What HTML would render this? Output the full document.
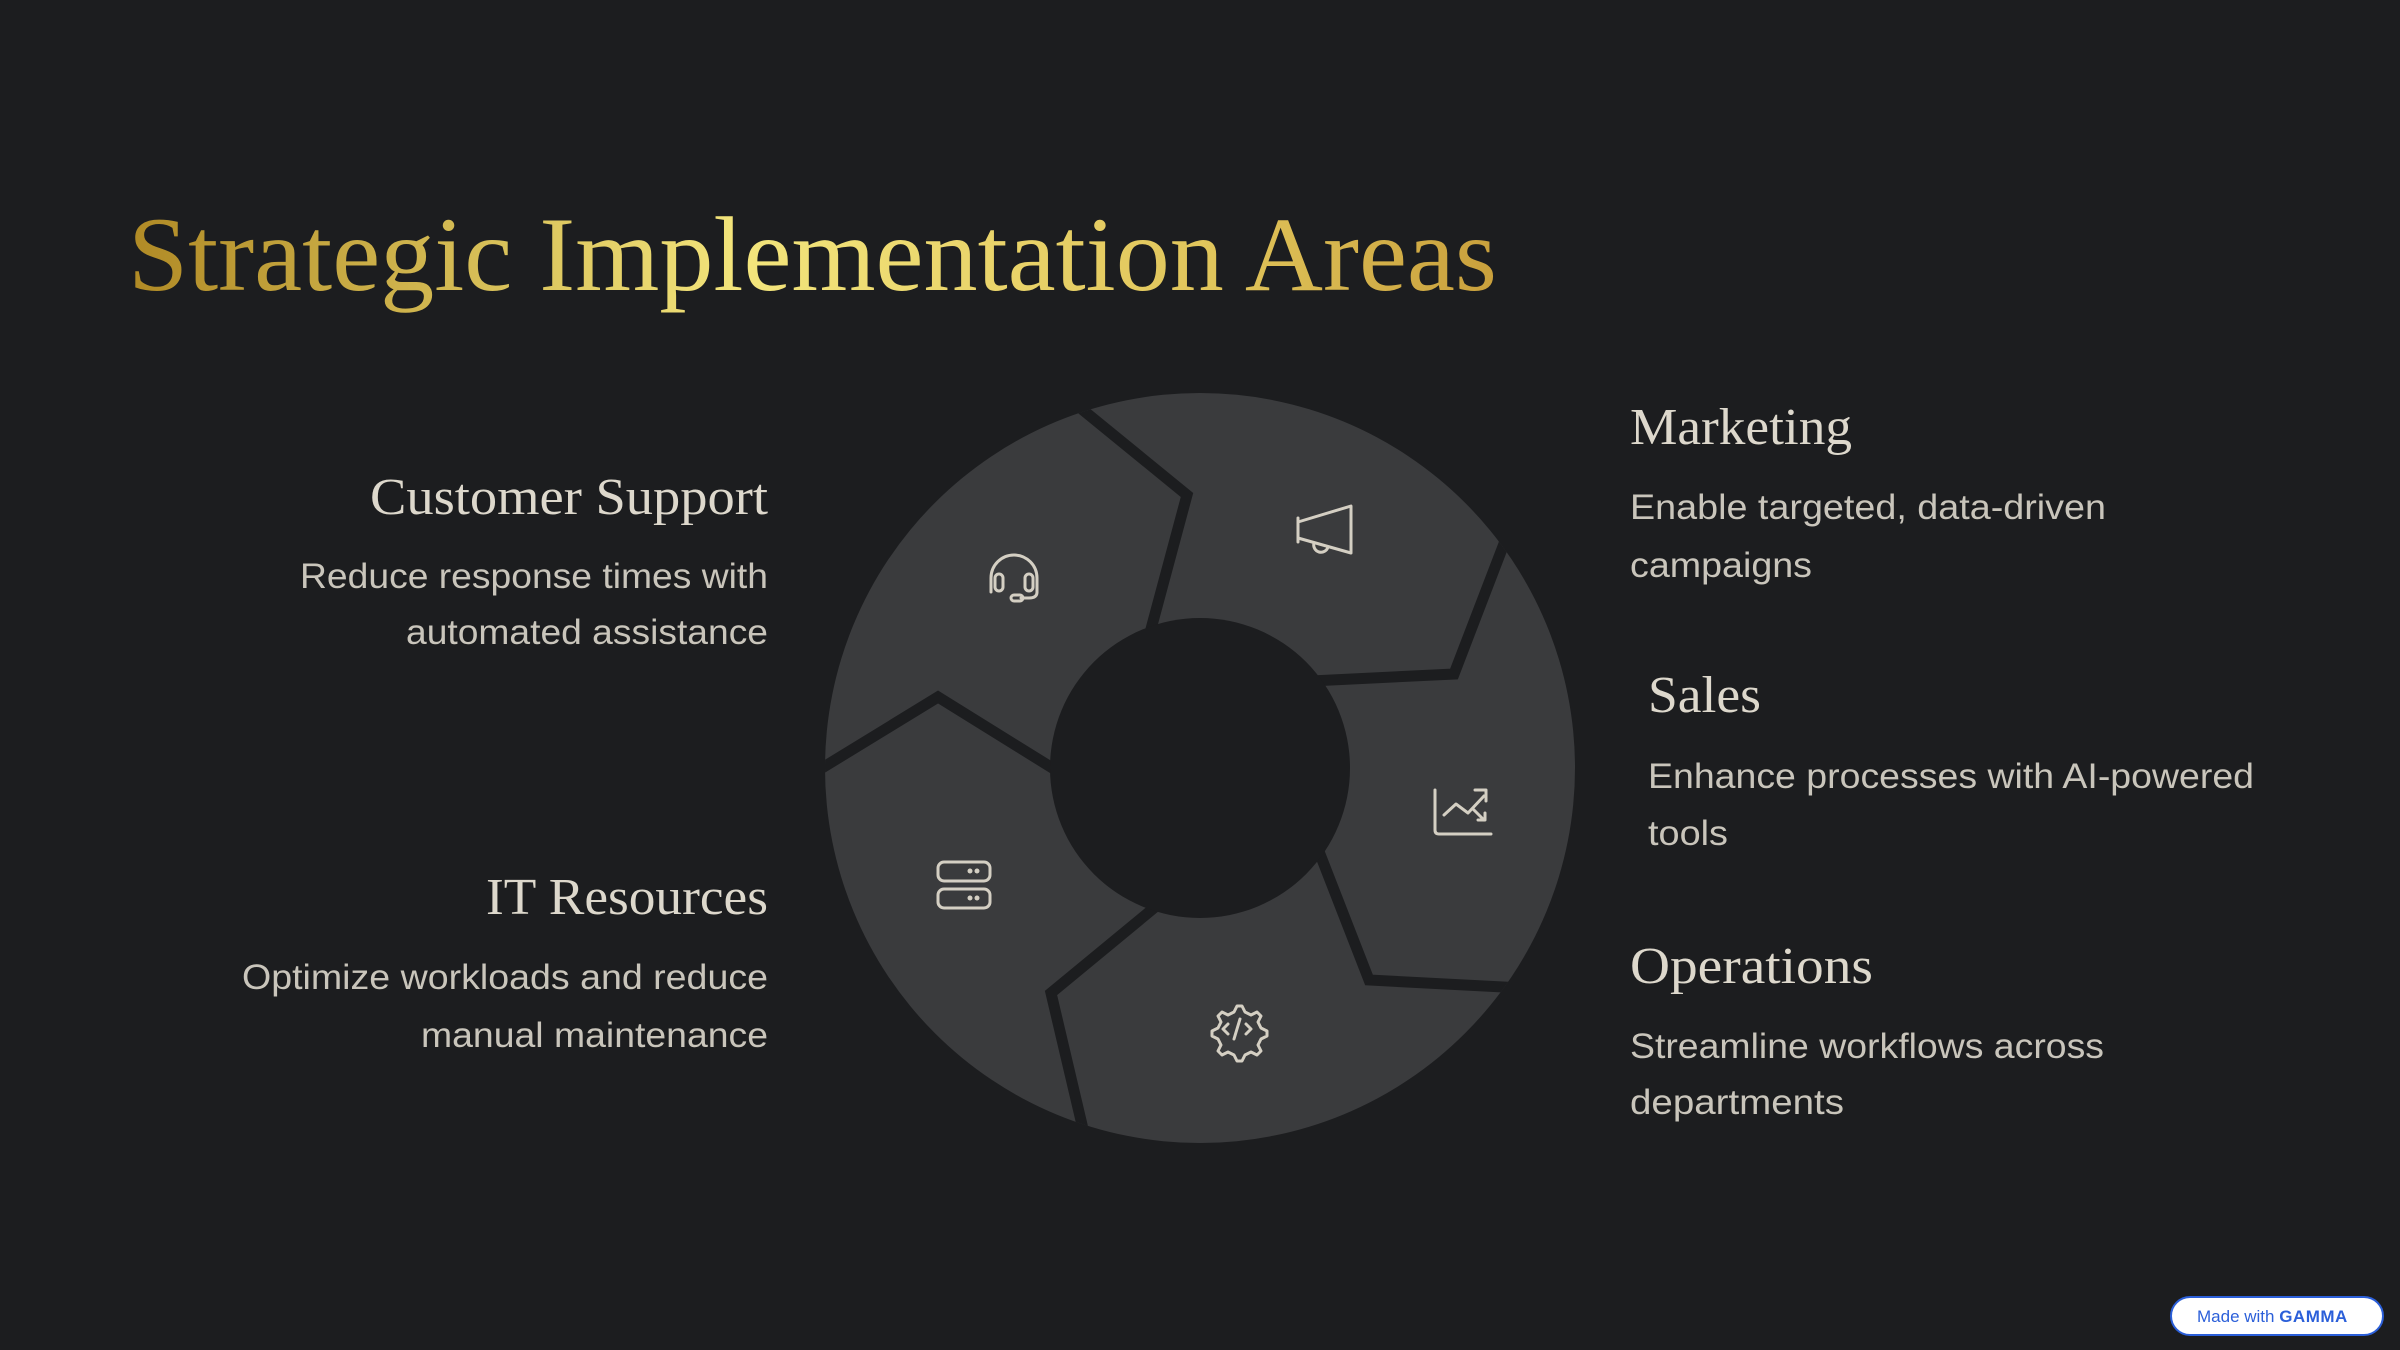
<!DOCTYPE html>
<html><head><meta charset="utf-8"><style>
html,body{margin:0;padding:0;background:#1c1d1f;}
svg{display:block;}
</style></head><body>
<svg width="2400" height="1350" viewBox="0 0 2400 1350" xmlns="http://www.w3.org/2000/svg">
<defs>
<linearGradient id="g" x1="128" y1="0" x2="1497" y2="0" gradientUnits="userSpaceOnUse">
<stop offset="0" stop-color="#b08a25"/>
<stop offset="0.45" stop-color="#f3e57c"/>
<stop offset="0.8" stop-color="#e0c45a"/>
<stop offset="1" stop-color="#c9a03c"/>
</linearGradient>
<clipPath id="ring"><circle cx="1200" cy="768" r="375"/></clipPath>
</defs>
<rect width="2400" height="1350" fill="#1c1d1f"/>
<text x="128" y="290" font-family="Liberation Serif, serif" font-size="106" fill="url(#g)" textLength="1369" lengthAdjust="spacingAndGlyphs">Strategic Implementation Areas</text>

<circle cx="1200" cy="768" r="375" fill="#3a3b3d"/>
<g clip-path="url(#ring)" fill="none" stroke="#1c1d1f" stroke-width="11" stroke-linejoin="miter">
<polyline points="1040,375 1187,495 1140,670"/>
<polyline points="1540,450 1454,674 1250,684"/>
<polyline points="1260,700 1369,980 1560,990"/>
<polyline points="1200,870 1051,993 1095,1180"/>
<polyline points="760,806 938,697 1120,810"/>
</g>
<circle cx="1200" cy="768" r="150" fill="#1c1d1f"/>

<g fill="none" stroke="#d4cfc3" stroke-width="3" stroke-linecap="round" stroke-linejoin="round">
<!-- headset -->
<path d="M991,592 v-14 a23,23 0 0 1 46,0 v14"/>
<rect x="995" y="574" width="8" height="17" rx="4"/>
<rect x="1025" y="574" width="8" height="17" rx="4"/>
<path d="M1037,592 q0,6 -8,6 h-8"/>
<rect x="1011" y="595" width="12" height="6" rx="3"/>
<!-- megaphone -->
<path d="M1298,522 L1351,506 L1351,553 L1298,538 Z"/>
<path d="M1298,518 v24"/>
<path d="M1314,543 a7,7 0 0 0 14,4"/>
<!-- chart -->
<path d="M1435,790 v40 q0,4 4,4 h52"/>
<path d="M1444,815 l12,-11 l12,9 l16,-17"/>
<path d="M1475,790 h11 v11"/>
<path d="M1474,810 l10,10 M1478,820 h7 v-7"/>
<!-- server -->
<rect x="938" y="862" width="52" height="19" rx="6"/>
<rect x="938" y="889" width="52" height="19" rx="6"/>
<!-- gear -->
<path d="M1237,1004 l5,0 l3,6 l6,3 l6,-3 l4,4 l-3,6 l3,6 l6,3 l0,5 l-6,3 l-3,6 l3,6 l-4,4 l-6,-3 l-6,3 l-3,6 l-5,0 l-3,-6 l-6,-3 l-6,3 l-4,-4 l3,-6 l-3,-6 l-6,-3 l0,-5 l6,-3 l3,-6 l-3,-6 l4,-4 l6,3 l6,-3 z" transform="translate(0,2)"/>
<path d="M1228,1024 l-5,5 l5,5 M1246,1024 l5,5 l-5,5 M1240,1019 l-6,20"/>
</g>
<g fill="#d4cfc3">
<circle cx="977" cy="871" r="2.5"/><circle cx="970" cy="871" r="2.5"/>
<circle cx="977" cy="898" r="2.5"/><circle cx="970" cy="898" r="2.5"/>
</g>

<g font-family="Liberation Serif, serif" font-size="52" fill="#ddd8cc">
<text x="768" y="514" text-anchor="end" textLength="398" lengthAdjust="spacingAndGlyphs">Customer Support</text>
<text x="768" y="914" text-anchor="end" textLength="282" lengthAdjust="spacingAndGlyphs">IT Resources</text>
<text x="1630" y="444" textLength="222" lengthAdjust="spacingAndGlyphs">Marketing</text>
<text x="1648" y="712" textLength="113" lengthAdjust="spacingAndGlyphs">Sales</text>
<text x="1630" y="983" textLength="243" lengthAdjust="spacingAndGlyphs">Operations</text>
</g>
<g font-family="Liberation Sans, sans-serif" font-size="35" fill="#c9c5bb">
<text x="300" y="588" textLength="468" lengthAdjust="spacingAndGlyphs">Reduce response times with</text>
<text x="406" y="644" textLength="362" lengthAdjust="spacingAndGlyphs">automated assistance</text>
<text x="242" y="989" textLength="526" lengthAdjust="spacingAndGlyphs">Optimize workloads and reduce</text>
<text x="421" y="1047" textLength="347" lengthAdjust="spacingAndGlyphs">manual maintenance</text>
<text x="1630" y="519" textLength="476" lengthAdjust="spacingAndGlyphs">Enable targeted, data-driven</text>
<text x="1630" y="577" textLength="182" lengthAdjust="spacingAndGlyphs">campaigns</text>
<text x="1648" y="788" textLength="606" lengthAdjust="spacingAndGlyphs">Enhance processes with AI-powered</text>
<text x="1648" y="845" textLength="80" lengthAdjust="spacingAndGlyphs">tools</text>
<text x="1630" y="1058" textLength="474" lengthAdjust="spacingAndGlyphs">Streamline workflows across</text>
<text x="1630" y="1114" textLength="214" lengthAdjust="spacingAndGlyphs">departments</text>
</g>

<rect x="2171" y="1297" width="212" height="38" rx="19" fill="#ffffff" stroke="#2b5fd9" stroke-width="2"/>
<text x="2197" y="1322" font-family="Liberation Sans, sans-serif" font-size="17" fill="#2b5fd9">Made with <tspan font-weight="bold" letter-spacing="0.5">GAMMA</tspan></text>
</svg>
</body></html>
